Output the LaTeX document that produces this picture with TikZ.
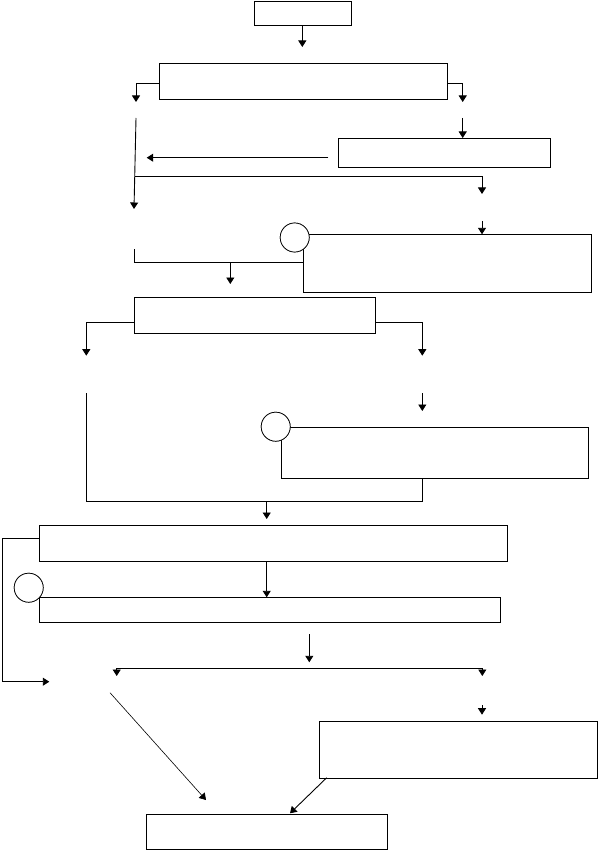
\documentclass[tikz,border=0pt]{standalone}
\usetikzlibrary{arrows.meta}
\begin{document}
\begin{tikzpicture}[x=1pt,y=-1pt,
  box/.style={draw, line width=0.9pt, rectangle, inner sep=0pt, anchor=north west},
  ring/.style={circle, draw, line width=0.7pt, fill=white, minimum size=29pt, inner sep=0pt},
  conn/.style={line width=0.9pt},
  arr/.style={line width=0.9pt, -{Triangle[width=8pt,length=6.5pt]}}]
\useasboundingbox (0,0) rectangle (598,850);
\fill[white] (0,0) rectangle (598,850);

% boxes
\node[box,minimum width=97pt,minimum height=24pt] (b1) at (254,1) {};
\node[box,minimum width=288pt,minimum height=36pt] (b2) at (159,63) {};
\node[box,minimum width=212pt,minimum height=29pt] (b3) at (338,138) {};
\node[box,minimum width=288pt,minimum height=57.4pt] (b4) at (302.7,234.3) {};
\node[box,minimum width=240.5pt,minimum height=36pt] (b5) at (134,297.3) {};
\node[box,minimum width=307.5pt,minimum height=51.2pt] (b6) at (280.5,426.5) {};
\node[box,minimum width=468pt,minimum height=36pt] (b7) at (38.7,525.3) {};
\node[box,minimum width=461.3pt,minimum height=24.4pt] (b8) at (38.7,597.3) {};
\node[box,minimum width=278.3pt,minimum height=57pt] (b9) at (319,721.3) {};
\node[box,minimum width=240.4pt,minimum height=35pt] (b10) at (146.3,814.3) {};

% circles
\node[ring] (c1) at (294.7,237.5) {};
\node[ring] (c2) at (275.7,426.7) {};
\node[ring] (c3) at (28.7,587.7) {};

% coordinates
\coordinate (t1) at (302.3,47);
\coordinate (t2l) at (136,102);
\coordinate (t2r) at (462.7,102);
\coordinate (s3) at (462.7,118);
\coordinate (s4) at (328.3,157.7);
\coordinate (t4) at (146.7,157.7);
\coordinate (s5) at (136,118);
\coordinate (t5) at (134,209);
\coordinate (j5) at (135.3,176.7);
\coordinate (t6) at (482,194);
\coordinate (s7) at (482,221);
\coordinate (s8) at (134.7,249.3);
\coordinate (j8) at (134.7,262);
\coordinate (s9) at (230.3,262);
\coordinate (t9) at (230.3,284);
\coordinate (t10l) at (86.3,355.7);
\coordinate (t10r) at (422.3,355.7);
\coordinate (s11) at (422.3,393.3);
\coordinate (t11) at (422.3,411);
\coordinate (s12) at (86.3,393.3);
\coordinate (j12) at (86.3,501.7);
\coordinate (r12) at (422.7,501.7);
\coordinate (s13) at (266.7,501.7);
\coordinate (t13) at (266.7,519);
\coordinate (k1) at (2.7,681.7);
\coordinate (t14) at (49.3,681.7);
\coordinate (s15) at (266.7,561.3);
\coordinate (s16) at (309.3,634);
\coordinate (t16) at (309.3,662.3);
\coordinate (hl) at (116.7,668.3);
\coordinate (hr) at (482.3,668.3);
\coordinate (tl) at (116.7,676);
\coordinate (tr) at (482.3,676);
\coordinate (s18) at (482,705.3);
\coordinate (t18) at (482,714.7);
\coordinate (s19) at (110,692.7);
\coordinate (t19) at (206,800);
\coordinate (s20) at (326.7,777.7);
\coordinate (t20) at (290,813.3);

% connectors
\draw[arr] (b1.south -| t1) -- (t1);
\draw[arr] ([yshift=-2pt]b2.west) -| (t2l);
\draw[arr] ([yshift=-2pt]b2.east) -| (t2r);
\draw[arr] (s3) -- (s3 |- b3.north);
\draw[arr] (s4) -- (t4);
\draw[arr] (s5) -- (t5);
\draw[arr] (j5) -| (t6);
\draw[arr] (s7) -- (s7 |- b4.north);
\draw[conn] (s8) -- (j8) -- (j8 -| b4.west);
\draw[arr] (s9) -- (t9);
\draw[arr] ([yshift=-6.4pt]b5.west) -| (t10l);
\draw[arr] ([yshift=-6.4pt]b5.east) -| (t10r);
\draw[arr] (s11) -- (t11);
\draw[conn] (s12) -- (j12) -- (r12) -- (r12 |- b6.south);
\draw[arr] (s13) -- (t13);
\draw[arr] ([yshift=5.6pt]b7.west) -| (k1) -- (t14);
\draw[arr] (s15) -- (s15 |- b8.north);
\draw[arr] (s16) -- (t16);
\draw[conn] (hl) -- (hr);
\draw[arr] (hl) -- (tl);
\draw[arr] (hr) -- (tr);
\draw[arr] (s18) -- (t18);
\draw[arr, line width=0.6pt] (s19) -- (t19);
\draw[arr] (s20) -- (t20);

% redraw circles on top
\node[ring] at (c1) {};
\node[ring] at (c2) {};
\node[ring] at (c3) {};
\end{tikzpicture}
\end{document}
